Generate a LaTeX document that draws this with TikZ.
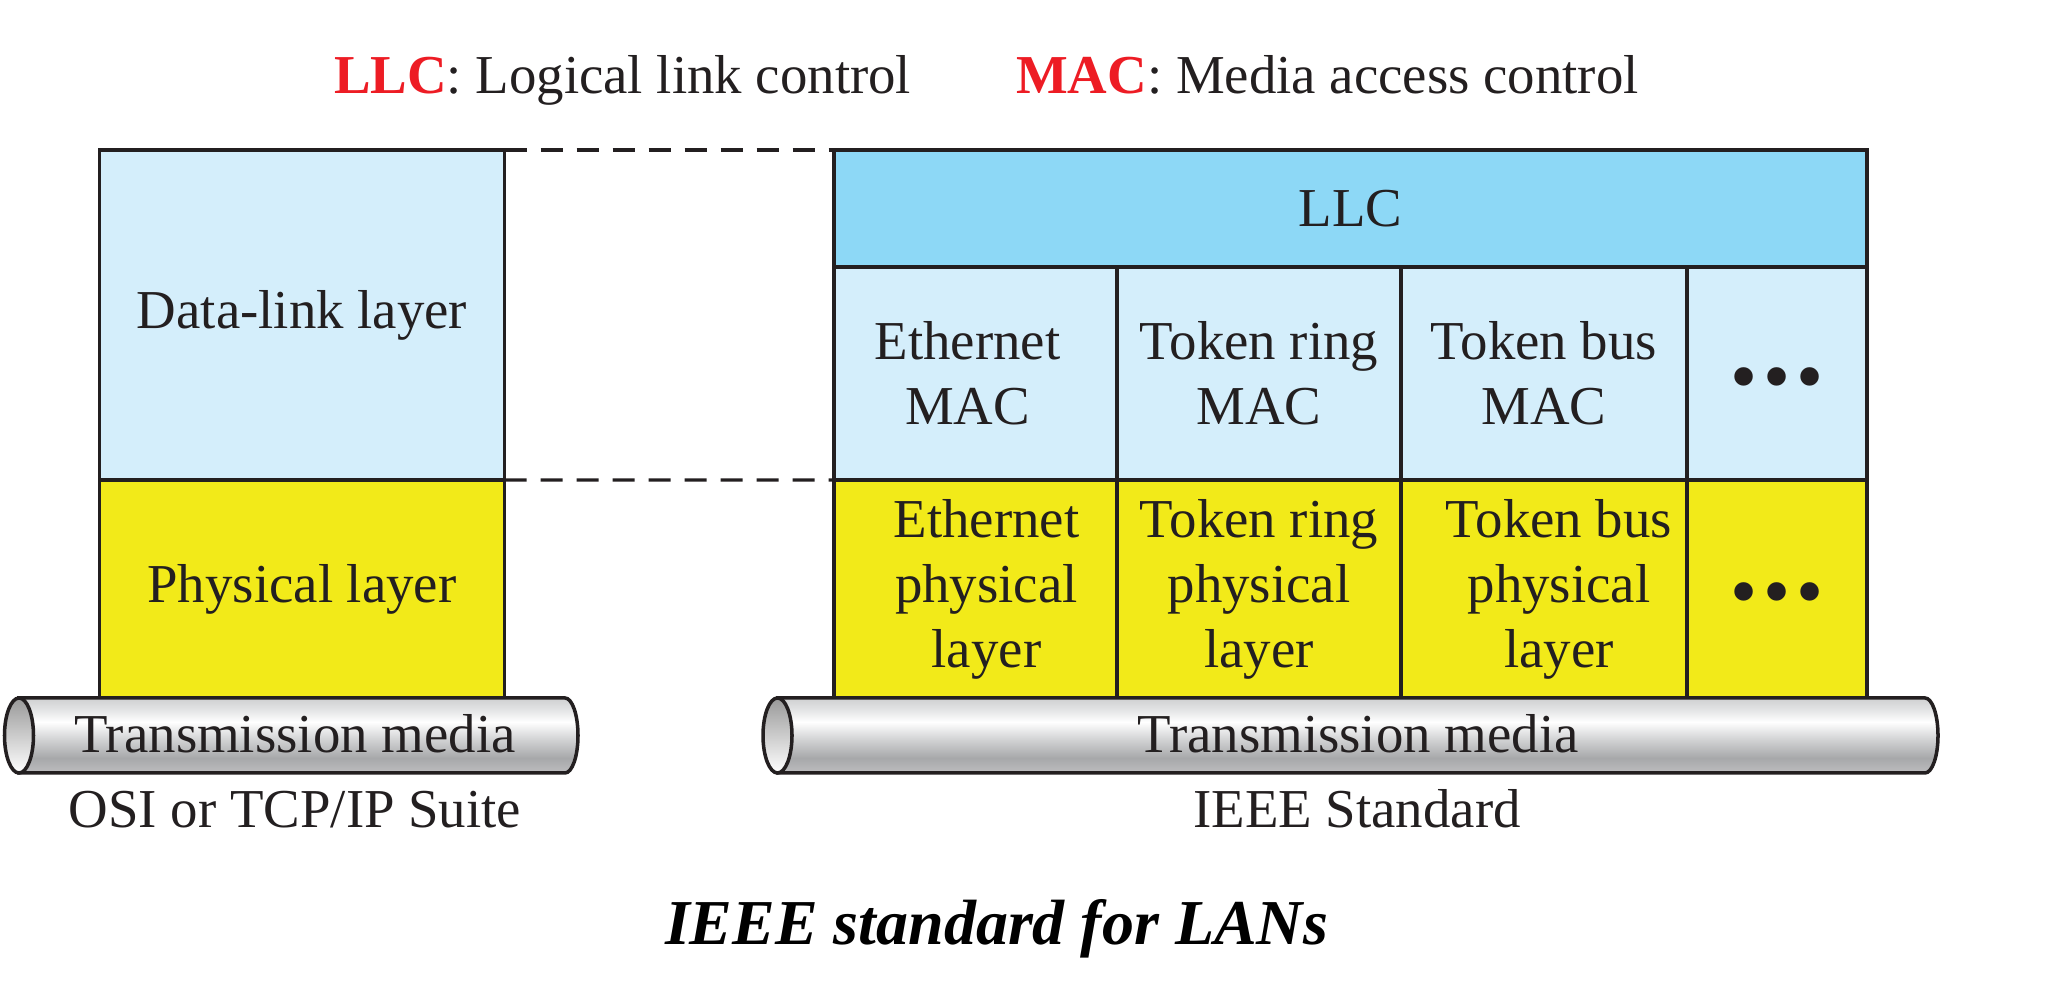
\documentclass[tikz,border=0pt]{standalone}
\usepackage{fontspec}
\setmainfont{Liberation Serif}
\usepackage{tikz}
\usetikzlibrary{positioning}
\definecolor{linkblue}{HTML}{D4EEFB}
\definecolor{llcblue}{HTML}{8DD8F6}
\definecolor{phyyellow}{HTML}{F2EA19}
\definecolor{keyred}{HTML}{ED1C24}
\definecolor{inkdark}{HTML}{231F20}
\definecolor{tubelow}{HTML}{BDBDBF}
\definecolor{tubedeep}{HTML}{A7A8AA}
\definecolor{tubemid}{HTML}{D2D3D4}
\definecolor{tubehigh}{HTML}{E2E3E4}
\definecolor{tubetop}{HTML}{CFD0D1}
\pgfdeclareverticalshading{tubeshade}{100bp}{color(0bp)=(tubelow); color(25bp)=(tubelow); color(35bp)=(tubedeep); color(47.5bp)=(tubemid); color(59bp)=(white); color(67.5bp)=(tubehigh); color(75bp)=(tubetop); color(100bp)=(tubetop)}
\newcommand{\tube}[2]{%
  \draw[tubeline, shading=tubeshade] (#1,3.02) -- (#2,3.02) arc[start angle=90, end angle=-90, x radius=0.13, y radius=0.375] -- (#1,2.27) -- cycle;
  \draw[tubeline, top color=gray!80, bottom color=white] (#1,2.645) ellipse[x radius=0.145, y radius=0.375];
}
\newcommand{\moredots}{\raisebox{-0.115cm}[\height][\depth]{\fontsize{22}{22}\selectfont •\hspace{0.06cm}•\hspace{0.06cm}•}}

\begin{document}
\begin{tikzpicture}[
  every node/.style={text=inkdark, inner sep=0pt, outer sep=0pt, font=\fontsize{15.6}{18.5}\selectfont},
  box/.style={draw=inkdark, line width=0.9pt, align=center},
  tubeline/.style={draw=inkdark, line width=1pt},
  dashline/.style={draw=inkdark, line width=0.9pt, dash pattern=on 0.22cm off 0.14cm}]
\useasboundingbox (0,0) rectangle (20.47,10);

% key
\node[anchor=base west] (llckey) at (3.34,9.06) {\textcolor{keyred}{\textbf{LLC}}: Logical link control};
\node[base right=1.05cm of llckey] (mackey) {\textcolor{keyred}{\textbf{MAC}}: Media access control};

% OSI or TCP/IP
\node[box, fill=linkblue, minimum width=4.05cm, minimum height=3.30cm, anchor=north west] (dll) at (0.995,8.50) {Data-link layer};
\node[box, fill=phyyellow, minimum width=4.05cm, minimum height=2.18cm, below=0pt of dll] (phy) {Physical layer};

% IEEE
\node[box, fill=llcblue, minimum width=10.33cm, minimum height=1.17cm, anchor=north west] (llc) at (8.34,8.50) {LLC};
\node[box, fill=linkblue, minimum width=2.83cm, minimum height=2.13cm, anchor=north west] (ethmac) at (llc.south west) {Ethernet\hspace*{0.16cm}\\MAC\hspace*{0.16cm}};
\node[box, fill=linkblue, minimum width=2.84cm, minimum height=2.13cm, right=0pt of ethmac] (ringmac) {Token ring\\MAC};
\node[box, fill=linkblue, minimum width=2.86cm, minimum height=2.13cm, right=0pt of ringmac] (busmac) {Token bus\\MAC};
\node[box, fill=linkblue, minimum width=1.80cm, minimum height=2.13cm, right=0pt of busmac] (moremac) {\moredots};
\node[box, fill=phyyellow, minimum width=2.83cm, minimum height=2.18cm, below=0pt of ethmac] (ethphy) {\hspace*{0.22cm}Ethernet\\\hspace*{0.22cm}physical\\\hspace*{0.22cm}layer};
\node[box, fill=phyyellow, minimum width=2.84cm, minimum height=2.18cm, below=0pt of ringmac] (ringphy) {Token ring\\physical\\layer};
\node[box, fill=phyyellow, minimum width=2.86cm, minimum height=2.18cm, below=0pt of busmac] (busphy) {\hspace*{0.3cm}Token bus\\\hspace*{0.3cm}physical\\\hspace*{0.3cm}layer};
\node[box, fill=phyyellow, minimum width=1.80cm, minimum height=2.18cm, below=0pt of moremac] (morephy) {\moredots};

\draw[dashline] (dll.north east) -- (llc.north west);
\draw[dashline] (dll.south east) -- (ethmac.south west);

% media
\tube{0.19}{5.65}
\tube{7.775}{19.25}
\node[anchor=base] (osimedia) at (2.95,2.475) {Transmission media};
\node[anchor=base] (ieeemedia) at (13.58,2.475) {Transmission media};
\node[anchor=base] (osi) at (2.95,1.72) {OSI or TCP/IP Suite};
\node[anchor=base] (ieee) at (13.57,1.72) {IEEE Standard};

\node[anchor=base, font=\fontsize{18.2}{22}\selectfont\bfseries\itshape, text=black] (title) at (9.965,0.55) {IEEE standard for LANs};
\end{tikzpicture}
\end{document}
